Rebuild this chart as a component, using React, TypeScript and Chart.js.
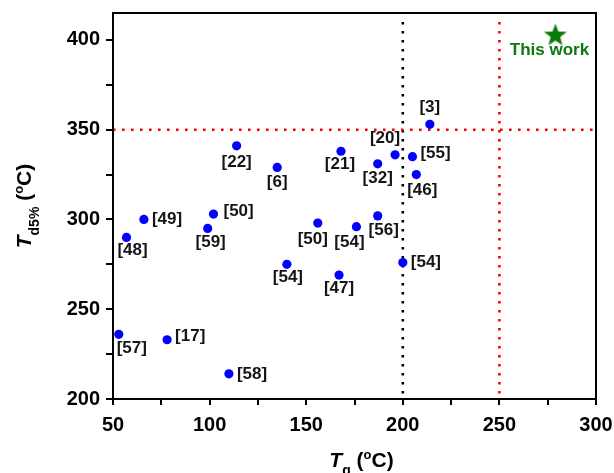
import React, { useEffect, useRef } from 'react';
import { Chart, registerables } from 'chart.js';

Chart.register(...registerables);

const FONT = '"Liberation Sans", Arial, Helvetica, sans-serif';

// ---- data ----
const refLabels = ['[57]', '[17]', '[58]', '[48]', '[54]', '[49]', '[59]', '[50]', '[22]', '[6]', '[50]', '[21]', '[32]', '[20]', '[55]', '[46]', '[3]', '[56]', '[54]', '[47]', '[54]'];
const tgValues = [53, 78, 110, 57, 140, 66, 99, 102, 114, 135, 156, 168, 187, 196, 205, 207, 214, 187, 176, 167, 200];
const td5Values = [236, 233, 214, 290, 275, 300, 295, 303, 341, 329, 298, 338, 331, 336, 335, 325, 353, 302, 296, 269, 276];
const thisWorkTg = [279];
const thisWorkTd5 = [403];
const xTickLabels = [50, 100, 150, 200, 250, 300];
const yTickLabels = [200, 250, 300, 350, 400];
const xRange = [50, 300];
const yRange = [200, 415];
const td5Limit = 350;
const tgLimitRed = 250;
const tgLimitBlack = 200;
const vLineSpan = [203, 412];

// ---- label placement (style: pixel offset from the point, alignment) ----
const labelOffsets: [number, number, CanvasTextAlign][] = [
  [13, 14, 'center'],
  [8, -3, 'left'],
  [8, 0, 'left'],
  [6, 13, 'center'],
  [1, 13, 'center'],
  [8, 0, 'left'],
  [3, 14, 'center'],
  [10, -3, 'left'],
  [0, 16, 'center'],
  [0, 15, 'center'],
  [-5, 16, 'center'],
  [-1, 13, 'center'],
  [0, 15, 'center'],
  [-10, -17, 'center'],
  [8, -3, 'left'],
  [6, 16, 'center'],
  [0, -17, 'center'],
  [6, 14, 'center'],
  [-7, 16, 'center'],
  [0, 13, 'center'],
  [8, 0, 'left'],
];

const GREEN = '#0a7a0a';

function makeStar(outer: number, inner: number, color: string) {
  const c = document.createElement('canvas');
  const s = Math.ceil(outer * 2 + 2);
  c.width = s;
  c.height = s;
  const g = c.getContext('2d')!;
  g.fillStyle = color;
  g.beginPath();
  for (let i = 0; i < 10; i++) {
    const r = i % 2 === 0 ? outer : inner;
    const a = -Math.PI / 2 + (i * Math.PI) / 5;
    const px = s / 2 + r * Math.cos(a);
    const py = s / 2 + 1 + r * Math.sin(a);
    if (i === 0) g.moveTo(px, py);
    else g.lineTo(px, py);
  }
  g.closePath();
  g.fill();
  return c;
}

type Part = { t: string; f: string; dy: number };

function drawRich(ctx: CanvasRenderingContext2D, parts: Part[], cx: number, cy: number, rotate: boolean) {
  ctx.save();
  ctx.translate(cx, cy);
  if (rotate) ctx.rotate(-Math.PI / 2);
  ctx.textAlign = 'left';
  ctx.textBaseline = 'alphabetic';
  let total = 0;
  const widths = parts.map((p) => {
    ctx.font = p.f;
    const w = ctx.measureText(p.t).width;
    total += w;
    return w;
  });
  let x = -total / 2;
  parts.forEach((p, i) => {
    ctx.font = p.f;
    ctx.fillText(p.t, x, p.dy);
    x += widths[i];
  });
  ctx.restore();
}

export default function App() {
  const ref = useRef<HTMLCanvasElement>(null);

  useEffect(() => {
    if (!ref.current) return;
    const star = makeStar(12, 5, GREEN);

    const overlay = {
      id: 'overlay',
      afterDatasetsDraw(chart: any) {
        const ctx: CanvasRenderingContext2D = chart.ctx;
        ctx.save();
        const meta = chart.getDatasetMeta(0);
        ctx.font = `bold 17px ${FONT}`;
        ctx.fillStyle = '#151515';
        ctx.textBaseline = 'middle';
        meta.data.forEach((el: any, i: number) => {
          const [dx, dy, al] = labelOffsets[i];
          ctx.textAlign = al;
          ctx.fillText(refLabels[i], el.x + dx, el.y + dy);
        });
        const sm = chart.getDatasetMeta(1).data[0];
        ctx.fillStyle = GREEN;
        ctx.font = `bold 17px ${FONT}`;
        ctx.textAlign = 'center';
        ctx.fillText('This work', sm.x - 6, sm.y + 16);
        const a = chart.chartArea;
        ctx.strokeStyle = '#000';
        ctx.lineWidth = 2;
        ctx.strokeRect(a.left, a.top, a.right - a.left, a.bottom - a.top);
        ctx.fillStyle = '#000';
        const big = `bold 21px ${FONT}`;
        const bigI = `italic bold 21px ${FONT}`;
        drawRich(
          ctx,
          [
            { t: 'T', f: bigI, dy: 0 },
            { t: 'g', f: `bold 14px ${FONT}`, dy: 8 },
            { t: ' (', f: big, dy: 0 },
            { t: 'o', f: `bold 13px ${FONT}`, dy: -8 },
            { t: 'C)', f: big, dy: 0 },
          ],
          (a.left + a.right) / 2 + 7,
          467,
          false
        );
        drawRich(
          ctx,
          [
            { t: 'T', f: bigI, dy: 0 },
            { t: 'd5%', f: `bold 14px ${FONT}`, dy: 8 },
            { t: ' (', f: big, dy: 0 },
            { t: 'o', f: `bold 13px ${FONT}`, dy: -8 },
            { t: 'C)', f: big, dy: 0 },
          ],
          31,
          (a.top + a.bottom) / 2,
          true
        );
        ctx.restore();
      },
    };

    const tickFont = { family: FONT, size: 20, weight: 'bold' as const };

    const chart = new Chart(ref.current, {
      type: 'scatter',
      data: {
        datasets: [
          {
            data: tgValues.map((x, i) => ({ x, y: td5Values[i] })),
            backgroundColor: '#0000ff',
            borderWidth: 0,
            pointRadius: 4.6,
          },
          {
            data: thisWorkTg.map((x, i) => ({ x, y: thisWorkTd5[i] })),
            pointStyle: star as any,
            pointRadius: 12,
          },
          {
            data: [
              { x: xRange[0], y: td5Limit },
              { x: xRange[1], y: td5Limit },
            ],
            showLine: true,
            borderColor: '#ff0000',
            borderWidth: 2.6,
            borderDash: [2.6, 6.4],
            pointRadius: 0,
          },
          {
            data: [
              { x: tgLimitRed, y: vLineSpan[0] },
              { x: tgLimitRed, y: vLineSpan[1] },
            ],
            showLine: true,
            borderColor: '#ff0000',
            borderWidth: 2.6,
            borderDash: [2.6, 6.4],
            pointRadius: 0,
          },
          {
            data: [
              { x: tgLimitBlack, y: vLineSpan[0] },
              { x: tgLimitBlack, y: vLineSpan[1] },
            ],
            showLine: true,
            borderColor: '#000000',
            borderWidth: 2.6,
            borderDash: [2.6, 6.4],
            pointRadius: 0,
          },
        ],
      },
      options: {
        animation: false,
        responsive: false,
        layout: { padding: { left: 0, top: 11, right: 18, bottom: 0 } },
        plugins: { legend: { display: false }, tooltip: { enabled: false } },
        scales: {
          x: {
            type: 'linear',
            min: xRange[0],
            max: xRange[1],
            border: { display: false },
            grid: { drawOnChartArea: false, drawTicks: true, tickLength: 6, color: '#000', lineWidth: 2 },
            ticks: {
              stepSize: 25,
              autoSkip: false,
              includeBounds: false,
              maxRotation: 0,
              padding: 8,
              color: '#000',
              font: tickFont,
              callback: (v: any) => (xTickLabels.includes(Number(v)) ? String(v) : ''),
            },
            afterFit: (s: any) => {
              s.height = 74;
              s.paddingLeft = 0;
              s.paddingRight = 0;
            },
          },
          y: {
            type: 'linear',
            min: yRange[0],
            max: yRange[1],
            border: { display: false },
            grid: { drawOnChartArea: false, drawTicks: true, tickLength: 7, color: '#000', lineWidth: 2 },
            ticks: {
              stepSize: 25,
              autoSkip: false,
              includeBounds: false,
              padding: 6,
              color: '#000',
              font: tickFont,
              callback: (v: any) => (yTickLabels.includes(Number(v)) ? String(v) : ''),
            },
            afterFit: (s: any) => {
              s.width = 113;
              s.paddingTop = 0;
              s.paddingBottom = 0;
            },
          },
        },
      },
      plugins: [overlay],
    });
    return () => chart.destroy();
  }, []);

  return (
    <canvas
      ref={ref}
      width={614}
      height={473}
      style={{ position: 'fixed', left: 0, top: 0, display: 'block', background: '#fff' }}
    />
  );
}
